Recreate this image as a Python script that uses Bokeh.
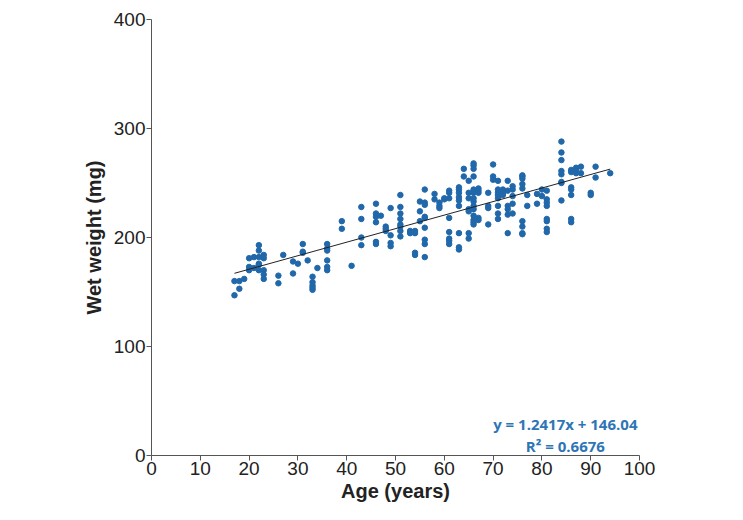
from bokeh.plotting import figure
from bokeh.models import Range1d, Label, FixedTicker
from bokeh.embed import file_html
from bokeh.resources import INLINE

# --- data ---
ages = ([17, 17, 18, 18, 19, 20, 20, 20, 21, 21]
        + [22] * 6 + [23] * 5 + [26, 26, 27, 29, 29, 30, 31, 31, 31, 32]
        + [33] * 5 + [34] + [36] * 6 + [39, 39, 41] + [43] * 4 + [46] * 6 + [47]
        + [48] * 3 + [49] * 4 + [51] * 8 + [53] * 2 + [54] * 4 + [55] * 3 + [56] * 9
        + [58] * 2 + [59] * 3 + [60] * 2 + [61] * 8 + [63] * 9 + [64] * 2 + [65] * 7
        + [66] * 14 + [67] * 5 + [69] * 4 + [70] * 3 + [71] * 8 + [72] * 3 + [73] * 6
        + [74] * 5 + [76] * 9 + [77] * 2 + [79] * 2 + [80] * 2 + [81] * 8 + [84] * 8
        + [86] * 7 + [87] * 3 + [88] * 2 + [90] * 2 + [91] * 2 + [94])
weights = ([160, 147, 160, 153, 162, 181, 173, 170, 182, 172]
           + [193, 188, 182, 176, 175, 170]
           + [184, 181, 170, 166, 162]
           + [165, 158, 184, 178, 167, 176, 194, 187, 186, 179]
           + [164, 159, 156, 154, 152]
           + [172]
           + [194, 190, 188, 179, 173, 170]
           + [215, 208, 174]
           + [228, 217, 200, 193]
           + [231, 222, 219, 214, 196, 194]
           + [220]
           + [210, 208, 206]
           + [227, 202, 195, 192]
           + [239, 228, 222, 217, 212, 210, 206, 201]
           + [206, 204]
           + [206, 204, 186, 184]
           + [233, 224, 215]
           + [244, 232, 230, 219, 218, 209, 198, 194, 182]
           + [240, 235]
           + [232, 229, 227]
           + [236, 235]
           + [243, 241, 236, 218, 205, 199, 197, 194]
           + [246, 244, 241, 237, 234, 229, 204, 191, 189]
           + [263, 256]
           + [252, 241, 236, 226, 224, 204, 199]
           + [268, 266, 263, 256, 244, 241, 236, 233, 229, 226, 220, 216, 214, 212]
           + [245, 243, 241, 218, 216]
           + [241, 229, 227, 212]
           + [267, 256, 253]
           + [252, 244, 241, 239, 236, 229, 222, 217]
           + [244, 241, 239]
           + [252, 243, 229, 226, 221, 204]
           + [247, 244, 238, 231, 222]
           + [257, 256, 254, 249, 245, 215, 210, 204, 203]
           + [239, 229]
           + [240, 231]
           + [244, 238]
           + [243, 235, 232, 229, 217, 215, 208, 205]
           + [288, 278, 271, 261, 258, 251, 250, 234]
           + [262, 260, 246, 244, 239, 217, 214]
           + [264, 261, 259]
           + [265, 259]
           + [241, 239]
           + [265, 255]
           + [259])

slope = 1.2417
intercept = 146.04
fit_x = [17, 94]
x_ticks = [0, 10, 20, 30, 40, 50, 60, 70, 80, 90, 100]
y_ticks = [0, 100, 200, 300, 400]
eq_lines = ["y = 1.2417x + 146.04", "R\u00b2 = 0.6676"]

p = figure(width=727, height=504, output_backend="svg", toolbar_location=None,
           x_range=Range1d(0, 100), y_range=Range1d(0, 400),
           min_border_left=151, min_border_right=88, min_border_top=19,
           min_border_bottom=49)
p.outline_line_color = None
p.xgrid.visible = False
p.ygrid.visible = False
p.background_fill_color = "white"
p.border_fill_color = "white"

for ax in (p.xaxis[0], p.yaxis[0]):
    ax.axis_line_color = "#555555"
    ax.axis_line_width = 1
    ax.major_tick_line_color = "#555555"
    ax.major_tick_in = 0
    ax.major_tick_out = 5
    ax.minor_tick_line_color = None
    ax.major_label_text_font = "Liberation Sans"
    ax.major_label_text_font_size = "19px"
    ax.major_label_text_color = "#222222"
    ax.axis_label_text_font = "Liberation Sans"
    ax.axis_label_text_font_style = "bold"
    ax.axis_label_text_font_size = "20px"
    ax.axis_label_text_color = "#222222"

p.xaxis.ticker = FixedTicker(ticks=x_ticks)
p.yaxis.ticker = FixedTicker(ticks=y_ticks)
p.xaxis.axis_label = "Age (years)"
p.yaxis.axis_label = "Wet weight (mg)"
p.xaxis.major_label_standoff = 1
p.yaxis.major_label_standoff = 1
p.xaxis.axis_label_standoff = 2
p.yaxis.axis_label_standoff = 6

p.scatter(ages, weights, size=5.5, color="#2168aa", line_color="#2168aa")

fit_y = [slope * x + intercept for x in fit_x]
p.line(fit_x, fit_y, line_color="#222222", line_width=1)

for txt, yv in zip(eq_lines, [29, 9]):
    p.add_layout(Label(x=84.8, y=yv, text=txt, text_align="center",
                       text_baseline="middle", text_font="Open Sans",
                       text_font_style="bold", text_font_size="15px",
                       text_color="#2e75b6"))

open("out.html", "w").write(file_html(p, INLINE))
